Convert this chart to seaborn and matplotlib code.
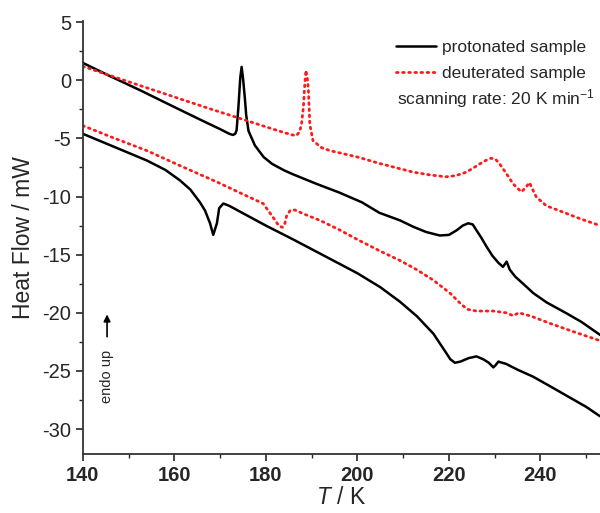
import matplotlib
matplotlib.use("Agg")
import matplotlib.pyplot as plt
import seaborn as sns
import pandas as pd
from matplotlib.ticker import MultipleLocator

# protonated sample, upper trace
prot_up_T = [140, 146, 152.5, 160, 166, 170, 172.0, 172.8, 173.3, 173.6, 174.0, 174.4, 174.7,
             175.0, 175.4, 175.7, 176.2, 177.6, 179.5, 181.4, 184, 186, 191, 196, 201, 204.8,
             209.3, 212.2, 215, 218, 220, 221.7, 223, 224.2, 225.2, 226, 227, 228.2, 229.5,
             230.8, 231.8, 232.6, 233.3, 234.5, 236.2, 238.4, 241.3, 245.7, 249, 253]
prot_up_Q = [1.5, 0.35, -0.85, -2.3, -3.45, -4.2, -4.6, -4.7, -4.6, -4.3, -2.3, 0.2, 1.15,
             0.2, -1.5, -3.0, -4.35, -5.6, -6.6, -7.2, -7.75, -8.1, -8.9, -9.65, -10.5, -11.4,
             -12.05, -12.6, -13.05, -13.35, -13.3, -12.9, -12.5, -12.3, -12.4, -12.9, -13.5,
             -14.3, -15.1, -15.7, -16.05, -15.6, -16.3, -16.9, -17.5, -18.3, -19.1, -20.05,
             -20.8, -21.9]

# deuterated sample, upper trace
deut_up_T = [140, 152.5, 167, 180, 184, 185.8, 186.7, 187.4, 187.8, 188.2, 188.5, 188.75,
             189.05, 189.3, 189.6, 190.3, 192.2, 194, 196.2, 200, 205, 212.2, 216, 219.4,
             221.5, 223.8, 225.3, 226.7, 228, 229.2, 230.2, 231.1, 232.5, 234, 235.8, 236.6,
             237.6, 238.3, 239.1, 241.3, 244, 248.6, 253]
deut_up_Q = [1.2, -0.45, -2.35, -4.0, -4.5, -4.7, -4.75, -4.4, -3.7, -2.3, -0.3, 0.85,
             0.2, -0.9, -3.8, -5.2, -5.8, -6.05, -6.25, -6.6, -7.17, -7.9, -8.15, -8.3,
             -8.2, -7.9, -7.55, -7.2, -6.9, -6.7, -6.8, -7.2, -8.0, -8.9, -9.6, -9.3,
             -8.8, -9.4, -10.05, -10.8, -11.2, -11.9, -12.5]

# deuterated sample, lower trace
deut_lo_T = [140, 147, 154, 161, 169.6, 175, 179.4, 181.6, 182.8, 183.6, 184.1, 184.5, 185.3,
             186.3, 188, 191.8, 196, 200, 205, 209.3, 213, 216.6, 220.2, 222.5, 224, 226,
             229.7, 232.5, 234, 235.3, 238, 242, 247, 253]
deut_lo_Q = [-3.9, -5.0, -6.05, -7.3, -8.8, -9.8, -10.6, -11.8, -12.5, -12.65, -12.4, -11.7,
             -11.2, -11.15, -11.45, -12.05, -12.85, -13.7, -14.7, -15.5, -16.3, -17.2, -18.3,
             -19.2, -19.7, -19.85, -19.85, -20.0, -20.25, -20.0, -20.3, -20.9, -21.6, -22.4]

# protonated sample, lower trace
prot_lo_T = [140, 147, 154, 158, 161.2, 163.5, 165.6, 166.7, 167.8, 168.5, 169.3, 169.8,
             170.7, 172, 180, 186, 191.8, 200, 205, 209.3, 213, 216.6, 218.8, 220.3, 221.3,
             222.5, 224.3, 226, 227.5, 228.7, 229.7, 230.2, 230.8, 232.5, 235, 238.4, 242,
             246, 250, 253]
prot_lo_Q = [-4.6, -5.75, -6.9, -7.7, -8.6, -9.4, -10.5, -11.2, -12.3, -13.3, -12.3, -11.0,
             -10.6, -10.8, -12.5, -13.7, -14.9, -16.6, -17.8, -19.05, -20.3, -21.8, -23.1,
             -24.0, -24.3, -24.2, -23.9, -23.75, -24.0, -24.3, -24.7, -24.5, -24.2, -24.4,
             -24.9, -25.5, -26.3, -27.2, -28.1, -28.9]

sns.set_style("ticks")
plt.rcParams["font.family"] = ["Liberation Sans", "DejaVu Sans"]
plt.rcParams["mathtext.fontset"] = "custom"
plt.rcParams["mathtext.rm"] = "Liberation Sans"
plt.rcParams["mathtext.it"] = "Liberation Sans:italic"
plt.rcParams["axes.unicode_minus"] = False

fig, ax = plt.subplots(figsize=(6, 5.13), dpi=100)
fig.subplots_adjust(left=0.138, right=1.0, bottom=0.115, top=0.959)

black_kw = dict(color="black", linewidth=1.8, estimator=None, sort=False)
red_kw = dict(color="#ff1a1a", linewidth=2.0, estimator=None, sort=False,
              linestyle=(0, (0.6, 1.6)), dash_capstyle="round")

sns.lineplot(x=prot_up_T, y=prot_up_Q, ax=ax, label="protonated sample", **black_kw)
sns.lineplot(x=deut_up_T, y=deut_up_Q, ax=ax, label="deuterated sample", **red_kw)
sns.lineplot(x=prot_lo_T, y=prot_lo_Q, ax=ax, **black_kw)
sns.lineplot(x=deut_lo_T, y=deut_lo_Q, ax=ax, **red_kw)

ax.set_xlim(140, 253)
ax.set_ylim(-32.15, 5.1)
ax.xaxis.set_major_locator(MultipleLocator(20))
ax.xaxis.set_minor_locator(MultipleLocator(10))
ax.yaxis.set_major_locator(MultipleLocator(5))
ax.yaxis.set_minor_locator(MultipleLocator(2.5))
ax.tick_params(axis="both", which="major", direction="out", length=5, width=1.2, labelsize=14.5)
ax.tick_params(axis="both", which="minor", direction="out", length=3, width=1.0)
for lab in ax.get_xticklabels():
    lab.set_fontweight("bold")
for sp in ["left", "bottom"]:
    ax.spines[sp].set_linewidth(1.3)
    ax.spines[sp].set_color("#333333")
sns.despine(ax=ax)

ax.set_xlabel("$T$ / K", fontsize=16.5, labelpad=1)
ax.set_ylabel("Heat Flow / mW", fontsize=16.5, labelpad=5)

ax.legend(loc="upper left", bbox_to_anchor=(0.583, 0.984), frameon=False, fontsize=12.5,
          handlelength=2.3, handletextpad=0.3, labelspacing=0.6, borderaxespad=0.3)
ax.text(0.608, 0.822, "scanning rate: 20 K min$^{-1}$", transform=ax.transAxes,
        fontsize=12.5, ha="left", va="center")

ax.annotate("", xy=(145.3, -19.9), xytext=(145.3, -22.3),
            arrowprops=dict(arrowstyle="-|>", color="black", lw=1.2, mutation_scale=10))
ax.text(145.3, -25.5, "endo up", rotation=90, ha="center", va="center", fontsize=10.5)

plt.savefig("out.png", dpi=100)
